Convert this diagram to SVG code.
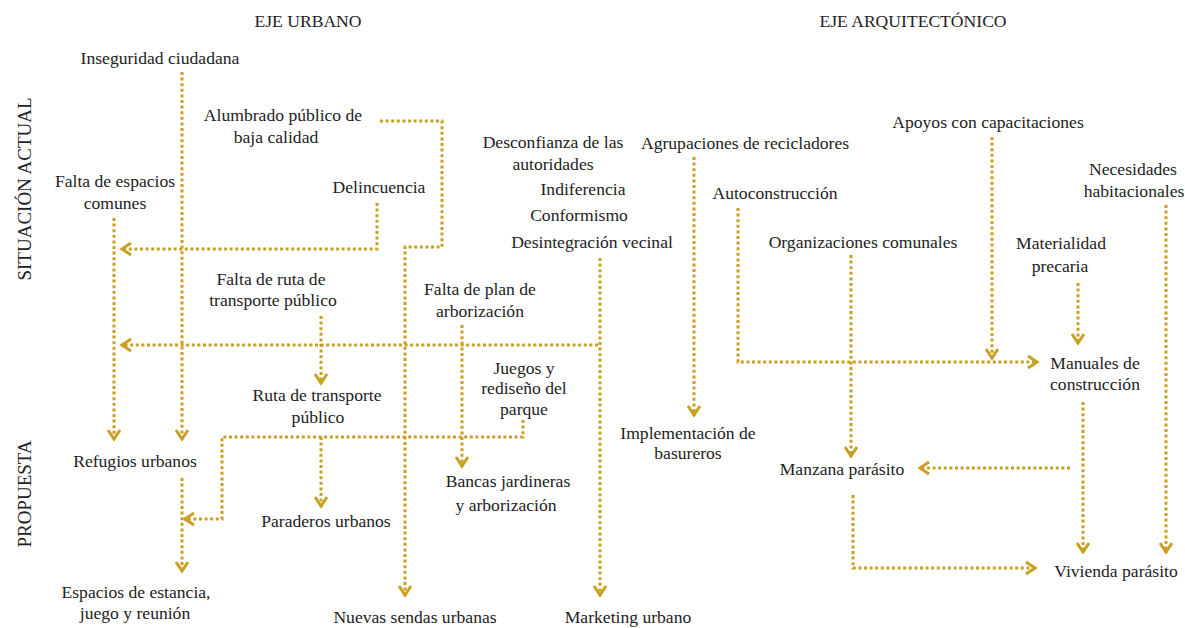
<svg xmlns="http://www.w3.org/2000/svg" width="1185" height="628" viewBox="0 0 1185 628">
<defs>
<marker id="ah" markerUnits="userSpaceOnUse" markerWidth="20" markerHeight="20" viewBox="-14 -10 20 20" refX="0" refY="0" orient="auto">
<path d="M-10,-6 L-1,0 L-10,6" fill="none" stroke="#C9A023" stroke-width="3"/>
</marker>
<style>
text{font-family:"Liberation Serif","Times New Roman",serif;font-size:17.6px;fill:#222;text-anchor:middle}
.v{font-size:19px}
.c{fill:none;stroke:#C9A023;stroke-width:3;stroke-dasharray:3 2.6}
.a{marker-end:url(#ah)}
</style>
</defs>
<rect width="1185" height="628" fill="#fff"/>
<g id="headers">
<text x="308" y="27">EJE URBANO</text>
<text x="913" y="27">EJE ARQUITECTÓNICO</text>
<text class="v" transform="translate(31,189) rotate(-90)">SITUACIÓN ACTUAL</text>
<text class="v" transform="translate(31,494) rotate(-90)">PROPUESTA</text>
</g>
<g id="connectors">
<path class="c a" d="M182,72 V440"/>
<path class="c a" d="M114,218 V440"/>
<path class="c a" d="M380,121 H442 V247 H405 V596"/>
<path class="c a" d="M377,203 V249 H121"/>
<path class="c a" d="M600,258 V596"/>
<path class="c a" d="M598,345 H121"/>
<path class="c a" d="M321,316 V384"/>
<path class="c a" d="M321,437 V507"/>
<path class="c a" d="M462,325 V467"/>
<path class="c a" d="M523,420 V437 H222 V519 H184"/>
<path class="c a" d="M182,478 V572"/>
<path class="c a" d="M694,157 V416"/>
<path class="c a" d="M738,208 V362 H1038"/>
<path class="c a" d="M851,255 V457"/>
<path class="c a" d="M992,137 V359"/>
<path class="c a" d="M1078,283 V344"/>
<path class="c a" d="M1166,205 V553"/>
<path class="c a" d="M1083,402 V553"/>
<path class="c a" d="M1070,468 H919"/>
<path class="c a" d="M853,495 V568 H1036"/>
</g>
<g id="n-inseguridad"><text x="160" y="64">Inseguridad ciudadana</text></g>
<g id="n-alumbrado"><text x="283" y="121">Alumbrado público de</text><text x="276" y="143">baja calidad</text></g>
<g id="n-falta-espacios"><text x="115" y="187">Falta de espacios</text><text x="115" y="209">comunes</text></g>
<g id="n-delincuencia"><text x="379" y="193">Delincuencia</text></g>
<g id="n-desconfianza"><text x="553" y="148">Desconfianza de las</text><text x="553" y="170">autoridades</text></g>
<g id="n-indiferencia"><text x="583" y="195">Indiferencia</text></g>
<g id="n-conformismo"><text x="579" y="221">Conformismo</text></g>
<g id="n-desintegracion"><text x="592" y="248">Desintegración vecinal</text></g>
<g id="n-agrupaciones"><text x="745" y="149">Agrupaciones de recicladores</text></g>
<g id="n-apoyos"><text x="988" y="128">Apoyos con capacitaciones</text></g>
<g id="n-necesidades"><text x="1133" y="175">Necesidades</text><text x="1134" y="197">habitacionales</text></g>
<g id="n-autoconstruccion"><text x="775" y="199">Autoconstrucción</text></g>
<g id="n-organizaciones"><text x="863" y="248">Organizaciones comunales</text></g>
<g id="n-materialidad"><text x="1061" y="249">Materialidad</text><text x="1060" y="272">precaria</text></g>
<g id="n-falta-ruta"><text x="271" y="285">Falta de ruta de</text><text x="273" y="306">transporte público</text></g>
<g id="n-falta-plan"><text x="480" y="295">Falta de plan de</text><text x="480" y="317">arborización</text></g>
<g id="n-juegos"><text x="524" y="374">Juegos y</text><text x="524" y="394">rediseño del</text><text x="524" y="415">parque</text></g>
<g id="n-ruta"><text x="317" y="401">Ruta de transporte</text><text x="318" y="423">público</text></g>
<g id="n-manuales"><text x="1095" y="369">Manuales de</text><text x="1095" y="390">construcción</text></g>
<g id="n-implementacion"><text x="688" y="439">Implementación de</text><text x="688" y="459">basureros</text></g>
<g id="n-refugios"><text x="135" y="467">Refugios urbanos</text></g>
<g id="n-manzana"><text x="842" y="475">Manzana parásito</text></g>
<g id="n-bancas"><text x="508" y="487">Bancas jardineras</text><text x="506" y="511">y arborización</text></g>
<g id="n-paraderos"><text x="326" y="527">Paraderos urbanos</text></g>
<g id="n-vivienda"><text x="1116" y="577">Vivienda parásito</text></g>
<g id="n-espacios"><text x="136" y="598">Espacios de estancia,</text><text x="135" y="619">juego y reunión</text></g>
<g id="n-sendas"><text x="415" y="623">Nuevas sendas urbanas</text></g>
<g id="n-marketing"><text x="628" y="623">Marketing urbano</text></g>
</svg>
